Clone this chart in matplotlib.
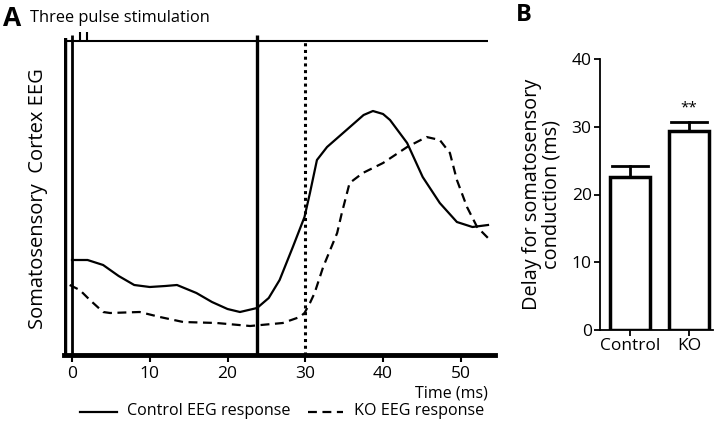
import numpy as np
import matplotlib.pyplot as plt

plt.rcParams['font.family'] = ['Open Sans', 'DejaVu Sans']

# Panel A: EEG traces (time in ms, amplitude in arbitrary units)
ctrl_t = [0.0, 2.0, 4.0, 6.0, 8.0, 10.0, 12.0, 13.5, 16.0, 18.0, 20.0, 21.6, 23.8,
          25.3, 26.7, 28.4, 29.9, 30.6, 31.5, 32.8, 35.3, 37.5, 38.7, 40.0, 40.9,
          43.1, 45.1, 47.3, 49.5, 51.5, 53.5]
ctrl_v = [95, 95, 90, 79, 70, 68, 69, 70, 62, 53, 46, 43, 47,
          57, 75, 108, 138, 162, 195, 208, 225, 240, 244, 241, 235,
          212, 178, 152, 133, 128, 130]

ko_t = [-0.3, 1.0, 2.3, 4.0, 4.9, 8.7, 11.3, 14.3, 18.6, 22.9, 27.1, 29.3, 29.9,
        30.6, 31.2, 32.3, 34.1, 34.7, 35.7, 37.4, 40.0, 43.1, 45.6, 47.3, 48.6,
        49.5, 50.8, 52.1, 53.5]
ko_v = [70, 65, 55, 43, 42, 43, 38, 33, 32, 29, 32, 38, 42,
        52, 62, 88, 122, 142, 172, 182, 192, 208, 218, 215, 202,
        175, 148, 128, 117]

pulse_t = [1.0, 1.9]
x_ticks = [0, 10, 20, 30, 40, 50]

# Panel B: conduction delay
groups = ['Control', 'KO']
delay = [22.6, 29.4]
delay_err = [1.6, 1.3]

fig = plt.figure(figsize=(7.2, 4.21), dpi=100)

# ---- panel A
ax = fig.add_axes([64/720, 1 - 355/421, 431/720, 325/421])
ax.plot(ctrl_t, ctrl_v, color='black', lw=1.6)
ax.plot(ko_t, ko_v, color='black', lw=1.6, ls=(0, (4, 2.5)))

ax.vlines(-0.9, 0, 317, color='black', lw=3.2)
ax.vlines(0, 0, 320, color='black', lw=2.0)
ax.vlines(23.8, 0, 320, color='black', lw=2.4)
ax.vlines(30, 0, 315, color='black', lw=2.2, linestyles=(0, (1, 1.2)))
ax.hlines(314, -0.9, 53.5, color='black', lw=1.5)
ax.vlines(pulse_t, 314, 323, color='black', lw=1.5)

ax.set_xlim(-1.03, 54.4)
ax.set_ylim(0, 325)
for s in ['top', 'right', 'left']:
    ax.spines[s].set_visible(False)
ax.spines['bottom'].set_linewidth(3.5)
ax.set_yticks([])
ax.set_xticks(x_ticks)
ax.tick_params(axis='x', length=5, width=1.5, labelsize=12.5, pad=3)
ax.set_ylabel('Somatosensory  Cortex EEG', fontsize=14.5)
ax.yaxis.set_label_coords(-0.036, 0.48)

fig.text(488/720, 1 - 393/421, 'Time (ms)', ha='right', va='center', fontsize=11.5)
fig.text(3/720, 1 - 19/421, 'A', fontsize=19, fontweight='bold', va='center')
fig.text(30/720, 1 - 18/421, 'Three pulse stimulation', fontsize=11.8, va='center')

# legend drawn as figure lines + text
fig.add_artist(plt.Line2D([80/720, 117/720], [1 - 412/421] * 2, color='black', lw=1.6))
fig.text(127/720, 1 - 411/421, 'Control EEG response', fontsize=11.6, va='center')
fig.add_artist(plt.Line2D([308/720, 343/720], [1 - 412/421] * 2, color='black', lw=1.6,
                          ls=(0, (4, 2.5))))
fig.text(354/720, 1 - 411/421, 'KO EEG response', fontsize=11.6, va='center')

# ---- panel B
bx = fig.add_axes([600/720, 1 - 330/421, 113/720, 271/421])
pos = np.arange(len(groups))
bx.bar(pos, delay, width=0.68, color='white', edgecolor='black', lw=2.5, zorder=2)
for p, d, e in zip(pos, delay, delay_err):
    bx.plot([p, p], [d, d + e], color='black', lw=2, zorder=1)
    bx.plot([p - 0.3, p + 0.3], [d + e, d + e], color='black', lw=2, zorder=1)
bx.text(pos[1], delay[1] + delay_err[1] + 0.9, '**', ha='center', va='bottom', fontsize=11)
bx.set_xlim(-0.51, 1.41)
bx.set_ylim(0, 40)
bx.set_yticks([0, 10, 20, 30, 40])
bx.set_xticks(pos)
bx.set_xticklabels(groups)
for s in ['top', 'right']:
    bx.spines[s].set_visible(False)
bx.spines['left'].set_linewidth(1.3)
bx.spines['bottom'].set_linewidth(1.3)
bx.tick_params(length=4, width=1.3, labelsize=12.5, pad=2)
bx.set_ylabel('Delay for somatosensory\nconduction (ms)', fontsize=14.3, linespacing=0.95)
bx.yaxis.set_label_coords(-0.34, 0.5)
fig.text(516/720, 1 - 15/421, 'B', fontsize=17, fontweight='bold', va='center')

fig.savefig('out.png', dpi=100)
